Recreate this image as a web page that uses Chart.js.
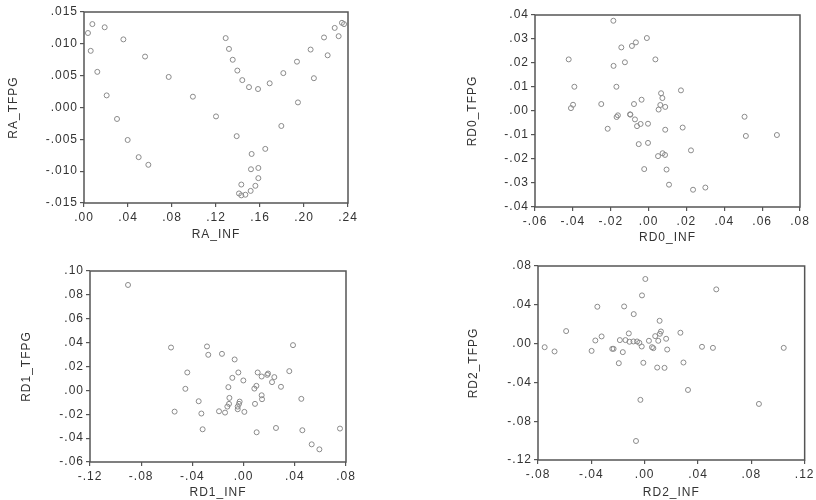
<!DOCTYPE html>
<html>
<head>
<meta charset="UTF-8">
<title>TFPG vs INF scatter</title>
<script src="https://cdn.jsdelivr.net/npm/chart.js"></script>
<style>
  body { margin: 0; background: #fff; }
  #wrap { position: relative; width: 816px; height: 500px; }
  .cell { position: absolute; width: 408px; height: 250px; }
</style>
</head>
<body>
<div id="wrap">
  <div class="cell" style="left:0;top:0"><canvas id="c1" width="408" height="250"></canvas></div>
  <div class="cell" style="left:408px;top:0"><canvas id="c2" width="408" height="250"></canvas></div>
  <div class="cell" style="left:0;top:250px"><canvas id="c3" width="408" height="250"></canvas></div>
  <div class="cell" style="left:408px;top:250px"><canvas id="c4" width="408" height="250"></canvas></div>
</div>
<script>
// RA
const raInf  = [0.0036, 0.0076, 0.0061, 0.0188, 0.0121, 0.0358, 0.0206, 0.0555, 0.0300, 0.0770, 0.0397, 0.0990,
                0.0497, 0.0585, 0.1200, 0.1288, 0.1318, 0.1352, 0.1394, 0.1439, 0.1500, 0.1582, 0.1688, 0.1812,
                0.1936, 0.2060, 0.2182, 0.2279, 0.2345, 0.2364, 0.2315, 0.2215, 0.2090, 0.1945, 0.1794, 0.1388,
                0.1648, 0.1524, 0.1518, 0.1585, 0.1585, 0.1430, 0.1558, 0.1515, 0.1409, 0.1430, 0.1467];
const raTfpg = [0.0117, 0.0131, 0.0089, 0.0126, 0.0056, 0.0107, 0.0019, 0.0080, -0.0018, 0.0048, -0.0051, 0.0017,
                -0.0078, -0.0090, -0.0014, 0.0109, 0.0092, 0.0075, 0.0058, 0.0043, 0.0032, 0.0029, 0.0038, 0.0054,
                0.0072, 0.0091, 0.0110, 0.0125, 0.0133, 0.0131, 0.0112, 0.0082, 0.0046, 0.0008, -0.0029, -0.0045,
                -0.0065, -0.0073, -0.0097, -0.0095, -0.0111, -0.0121, -0.0123, -0.0131, -0.0135, -0.0138, -0.0137];
const raXTicks = ['.00', '.04', '.08', '.12', '.16', '.20', '.24'];
const raYTicks = ['-.015', '-.010', '-.005', '.000', '.005', '.010', '.015'];

// RD0
const rd0Inf  = [-0.0186, -0.0009, -0.0067, -0.0088, -0.0144, -0.0422, 0.0036, -0.0125, -0.0185, -0.0392, -0.0170, 0.0171,
                 0.0066, 0.0073, -0.0037, -0.0399, -0.0250, -0.0077, 0.0062, 0.0088, -0.0410, 0.0053, -0.0162, -0.0169,
                 -0.0098, -0.0096, -0.0072, -0.0042, -0.0061, -0.0003, -0.0216, 0.0088, 0.0180, 0.0507, 0.0514, 0.0678,
                 -0.0052, -0.0003, 0.0224, 0.0074, 0.0087, 0.0050, -0.0023, 0.0095, 0.0108, 0.0300, 0.0235];
const rd0Tfpg = [0.0376, 0.0304, 0.0286, 0.0271, 0.0265, 0.0215, 0.0215, 0.0203, 0.0188, 0.0101, 0.0101, 0.0086,
                 0.0074, 0.0054, 0.0047, 0.0026, 0.0029, 0.0029, 0.0025, 0.0017, 0.0012, 0.0006, -0.0018, -0.0025,
                 -0.0014, -0.0015, -0.0035, -0.0054, -0.0063, -0.0053, -0.0074, -0.0078, -0.0069, -0.0024, -0.0104, -0.0100,
                 -0.0138, -0.0133, -0.0164, -0.0176, -0.0183, -0.0188, -0.0242, -0.0244, -0.0307, -0.0319, -0.0328];
const rd0XTicks = ['-.06', '-.04', '-.02', '.00', '.02', '.04', '.06', '.08'];
const rd0YTicks = ['-.04', '-.03', '-.02', '-.01', '.00', '.01', '.02', '.03', '.04'];

// RD1
const rd1Inf  = [-0.0903, -0.0567, -0.0286, -0.0276, -0.0169, 0.0386, -0.0070, -0.0440, -0.0041, 0.0110, 0.0191, 0.0185,
                 0.0141, 0.0240, 0.0357, -0.0088, -0.0002, 0.0222, -0.0119, 0.0292, 0.0100, 0.0084, -0.0455, 0.0141,
                 0.0144, -0.0111, 0.0451, -0.0351, -0.0031, -0.0114, -0.0036, 0.0089, -0.0127, -0.0046, -0.0046, -0.0539,
                 -0.0192, -0.0145, 0.0006, -0.0330, -0.0320, 0.0102, 0.0253, 0.0459, 0.0753, 0.0532, 0.0592];
const rd1Tfpg = [0.0883, 0.0359, 0.0368, 0.0298, 0.0306, 0.0379, 0.0259, 0.0150, 0.0150, 0.0150, 0.0141, 0.0130,
                 0.0116, 0.0111, 0.0161, 0.0105, 0.0083, 0.0069, 0.0027, 0.0030, 0.0038, 0.0015, 0.0013, -0.0041,
                 -0.0074, -0.0063, -0.0071, -0.0091, -0.0094, -0.0113, -0.0113, -0.0113, -0.0136, -0.0136, -0.0158, -0.0178,
                 -0.0175, -0.0186, -0.0180, -0.0194, -0.0326, -0.0351, -0.0315, -0.0334, -0.0320, -0.0452, -0.0494];
const rd1XTicks = ['-.12', '-.08', '-.04', '.00', '.04', '.08'];
const rd1YTicks = ['-.06', '-.04', '-.02', '.00', '.02', '.04', '.06', '.08', '.10'];

// RD2
const rd2Inf  = [0.0005, 0.0537, -0.0020, -0.0355, -0.0154, -0.0082, 0.0112, -0.0589, 0.0268, -0.0119, -0.0323, 0.0122,
                 0.0114, 0.0079, 0.0161, -0.0370, -0.0186, -0.0144, -0.0114, -0.0084, -0.0057, -0.0040, 0.0032, 0.0102,
                 -0.0022, 0.0055, 0.0065, -0.0750, -0.0676, -0.0398, -0.0243, -0.0233, -0.0164, 0.0169, 0.0430, 0.0512,
                 0.1043, -0.0194, -0.0010, 0.0291, 0.0094, 0.0149, 0.0325, -0.0032, 0.0857, -0.0065];
const rd2Tfpg = [0.0666, 0.0559, 0.0497, 0.0380, 0.0383, 0.0304, 0.0235, 0.0129, 0.0112, 0.0105, 0.0074, 0.0125,
                 0.0101, 0.0077, 0.0050, 0.0032, 0.0036, 0.0036, 0.0019, 0.0022, 0.0022, 0.0008, 0.0029, 0.0029,
                 -0.0030, -0.0037, -0.0047, -0.0037, -0.0081, -0.0075, -0.0054, -0.0054, -0.0088, -0.0061, -0.0033, -0.0044,
                 -0.0044, -0.0202, -0.0198, -0.0195, -0.0247, -0.0250, -0.0478, -0.0580, -0.0622, -0.1004];
const rd2XTicks = ['-.08', '-.04', '.00', '.04', '.08', '.12'];
const rd2YTicks = ['-.12', '-.08', '-.04', '.00', '.04', '.08'];

const textColor = '#333';
const fontFamily = '"Liberation Sans", Arial, sans-serif';

// box round the plot area; the scanned labels run a little wide, so space them out
const framePlugin = {
  id: 'frame',
  beforeDraw(chart) {
    chart.ctx.letterSpacing = '1px';
  },
  afterDatasetsDraw(chart) {
    const { ctx, chartArea: a } = chart;
    ctx.save();
    ctx.strokeStyle = '#555';
    ctx.lineWidth = 1.5;
    ctx.strokeRect(a.left, a.top, a.right - a.left, a.bottom - a.top);
    ctx.restore();
  }
};

function axis(min, max, step, labels, title, fixedSize, isX, titlePad) {
  return {
    type: 'linear',
    min: min,
    max: max,
    grid: { drawOnChartArea: false, drawTicks: true, tickLength: 4, color: '#555', lineWidth: 1.2 },
    border: { display: false },
    ticks: {
      stepSize: step,
      padding: isX ? 3 : 2,
      color: textColor,
      font: { family: fontFamily, size: 12 },
      maxRotation: 0,
      autoSkip: false,
      callback: v => labels[Math.round((v - min) / step)]
    },
    title: {
      display: true,
      text: title,
      color: textColor,
      font: { family: fontFamily, size: 12 },
      padding: titlePad
    },
    afterFit: s => { if (isX) s.height = fixedSize; else s.width = fixedSize; }
  };
}

// area = [left, top, right, bottom] of the plot box inside a 408x250 canvas
function makeChart(id, xs, ys, xr, yr, xTitle, yTitle, area, yTitleX, xTitleY) {
  const [L, T, R, B] = area;
  const W = 408, H = 250, lh = 12 * 1.2;
  new Chart(document.getElementById(id), {
    type: 'scatter',
    data: {
      datasets: [{
        data: xs.map((x, i) => ({ x: x, y: ys[i] })),
        pointRadius: 2.5,
        pointBorderWidth: 1,
        borderColor: '#8a8a8a',
        backgroundColor: 'rgba(255,255,255,0)',
        clip: false
      }]
    },
    options: {
      responsive: false,
      animation: false,
      layout: { autoPadding: false, padding: { left: 0, top: T, right: W - R, bottom: 0 } },
      plugins: { legend: { display: false }, tooltip: { enabled: false } },
      scales: {
        x: axis(xr[0], xr[1], xr[2], xr[3], xTitle, H - B, true, { top: 0, bottom: H - xTitleY - lh / 2 }),
        y: axis(yr[0], yr[1], yr[2], yr[3], yTitle, L, false, { top: yTitleX - lh / 2, bottom: 0 })
      }
    },
    plugins: [framePlugin]
  });
}

makeChart('c1', raInf, raTfpg, [0, 0.24, 0.04, raXTicks], [-0.015, 0.015, 0.005, raYTicks],
  'RA_INF', 'RA_TFPG', [84, 12, 348, 203], 14, 235);
makeChart('c2', rd0Inf, rd0Tfpg, [-0.06, 0.08, 0.02, rd0XTicks], [-0.04, 0.04, 0.01, rd0YTicks],
  'RD0_INF', 'RD0_TFPG', [127, 15, 392, 207], 65, 238);
makeChart('c3', rd1Inf, rd1Tfpg, [-0.12, 0.08, 0.04, rd1XTicks], [-0.06, 0.10, 0.02, rd1YTicks],
  'RD1_INF', 'RD1_TFPG', [90, 21, 346, 212], 27, 242.5);
makeChart('c4', rd2Inf, rd2Tfpg, [-0.08, 0.12, 0.04, rd2XTicks], [-0.12, 0.08, 0.04, rd2YTicks],
  'RD2_INF', 'RD2_TFPG', [130, 16, 399, 210], 66, 243);
</script>
</body>
</html>
